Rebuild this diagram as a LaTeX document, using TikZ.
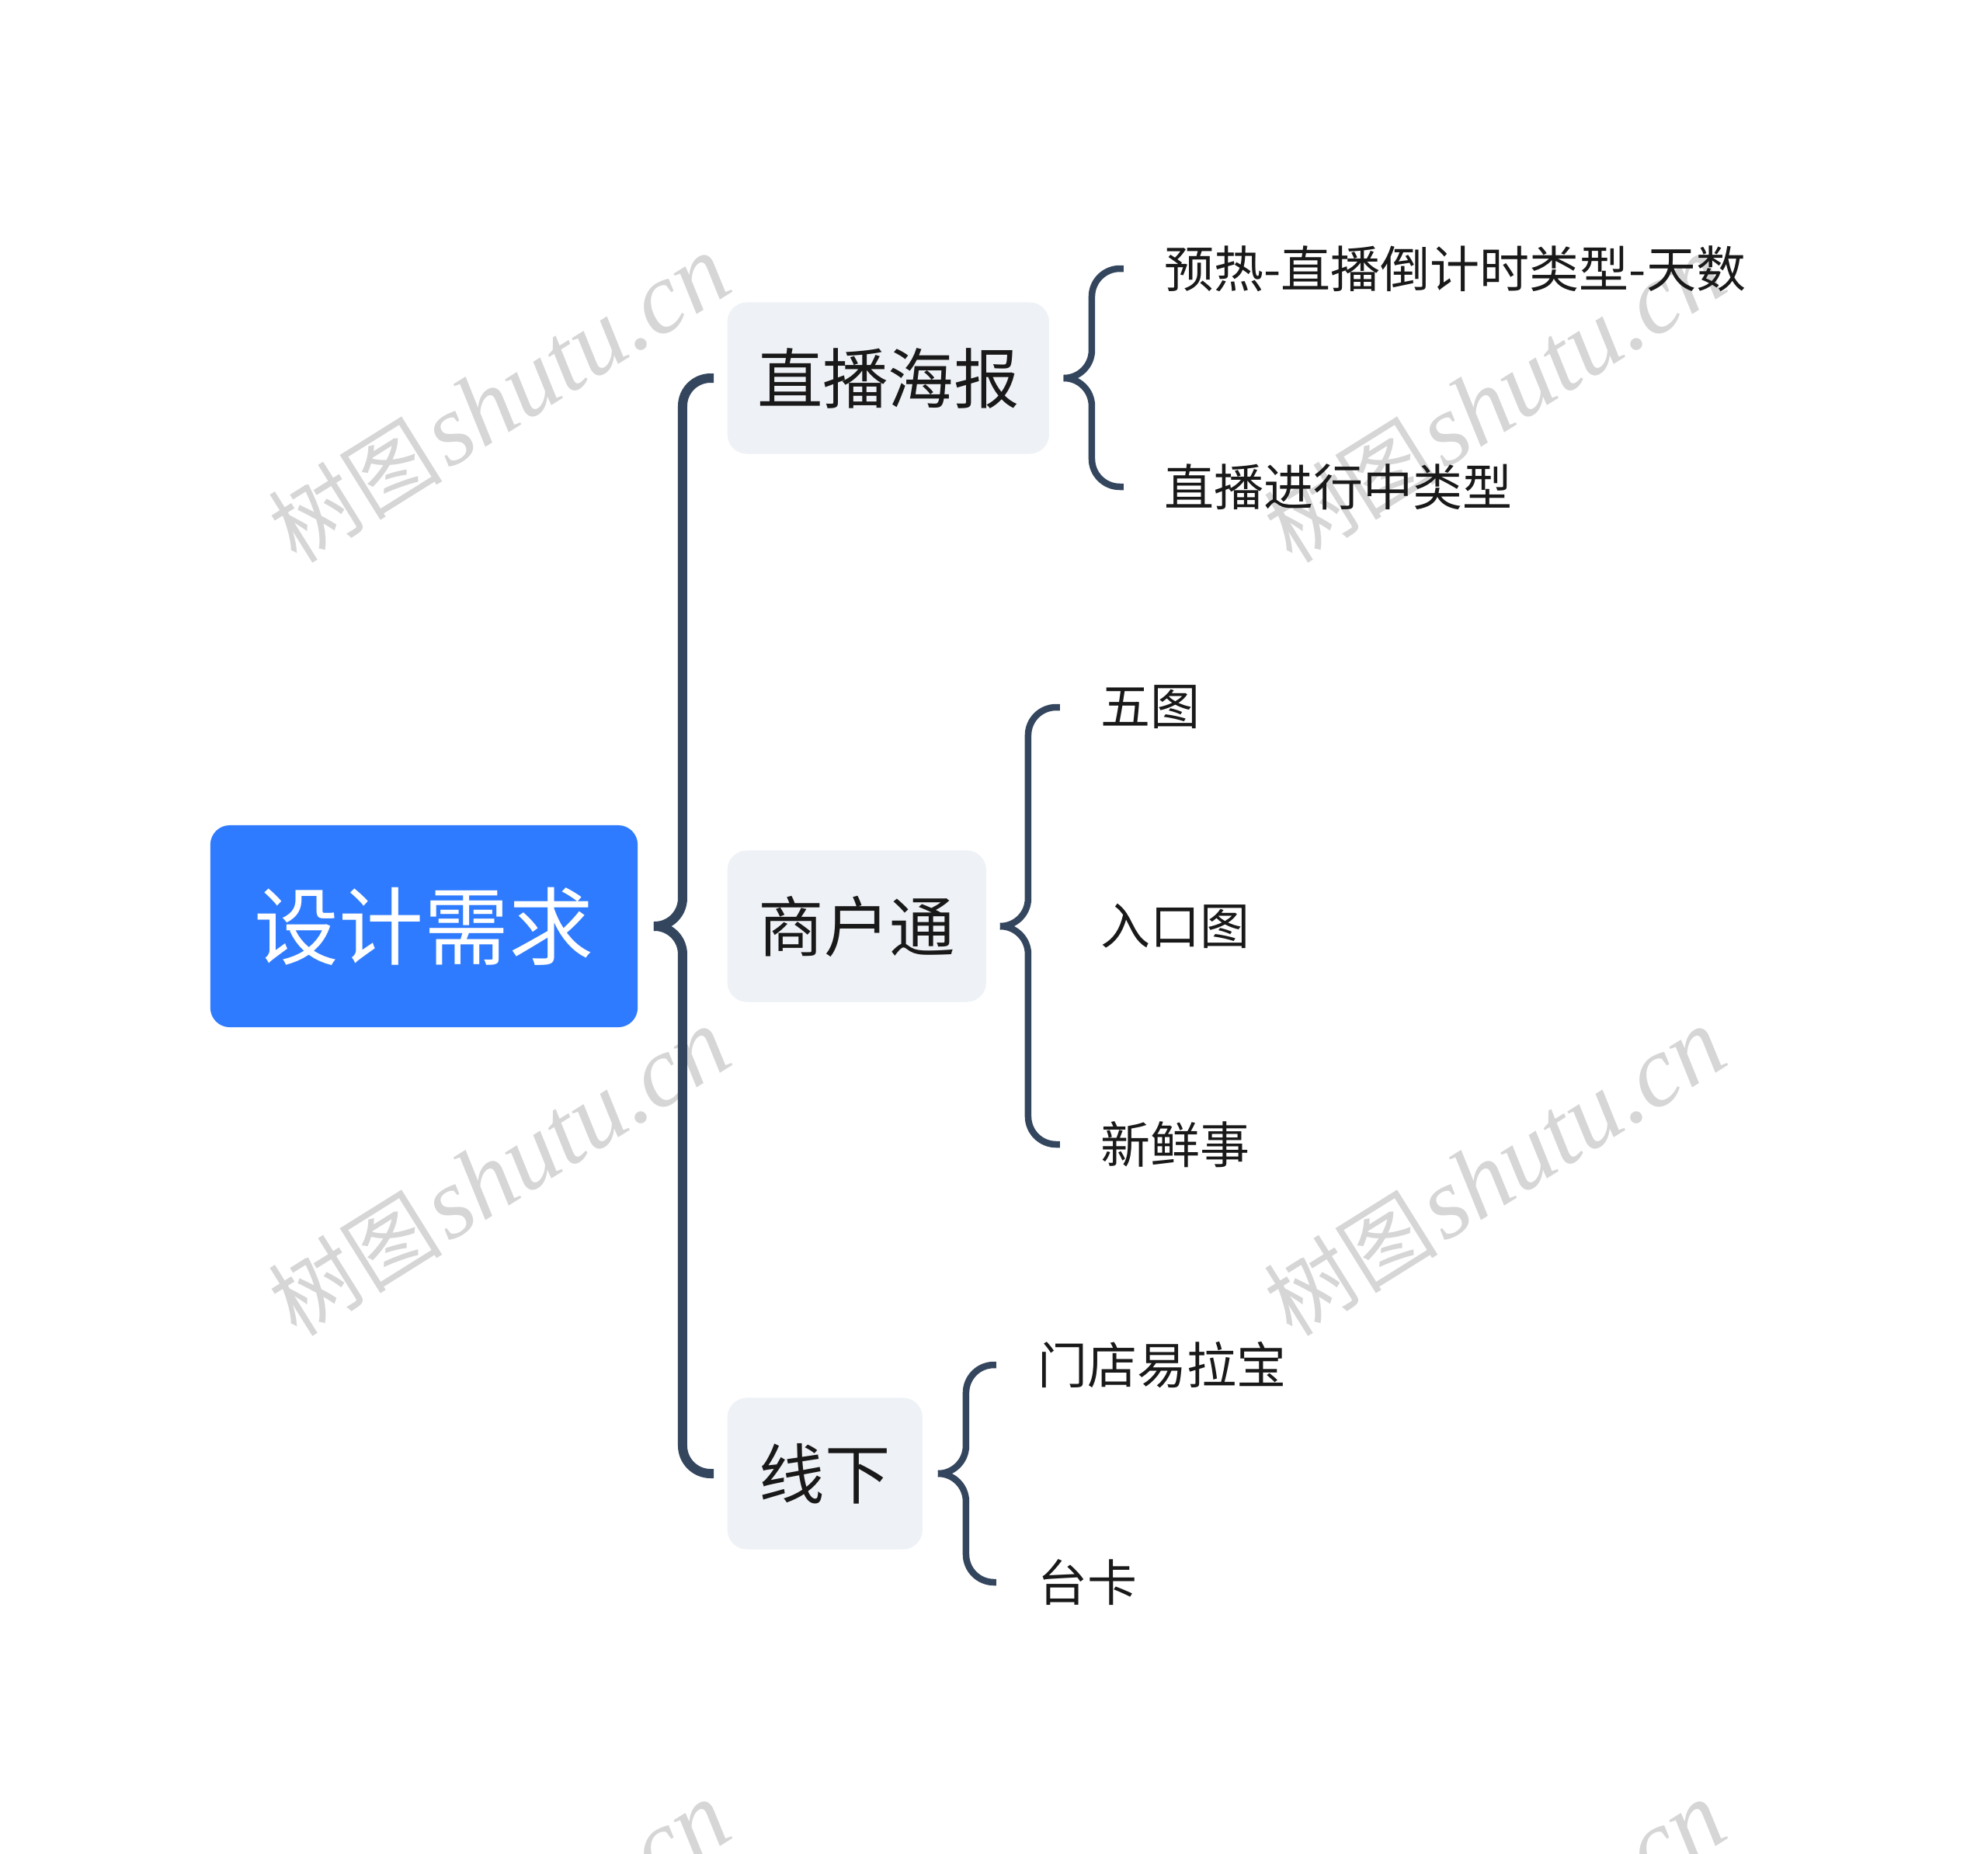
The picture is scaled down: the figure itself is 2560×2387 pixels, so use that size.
\documentclass[tikz,border=0pt]{standalone}
\usepackage{fontspec}
\newfontfamily\cjk{Noto Sans CJK SC}
\newfontfamily\wmserif{Liberation Serif}
\definecolor{rootblue}{RGB}{47,123,255}
\definecolor{boxgray}{RGB}{238,241,245}
\definecolor{linecol}{RGB}{52,70,94}
\definecolor{wmgray}{RGB}{214,214,214}
\definecolor{txtcol}{RGB}{25,25,25}
\tikzset{
  rootbox/.style={fill=rootblue, rounded corners=0.25cm, minimum width=5.5cm, minimum height=2.6cm,
    text=white, font=\cjk\fontsize{31}{31}\selectfont, inner sep=0pt},
  topicbox/.style={fill=boxgray, rounded corners=0.25cm, minimum height=1.95cm, anchor=west,
    text=txtcol, font=\cjk\fontsize{24}{24}\selectfont, inner sep=0pt},
  leaf/.style={anchor=west, inner sep=0pt, text=txtcol, font=\cjk\fontsize{18.2}{18.2}\selectfont},
  brace/.style={draw=linecol, line width=0.085cm, rounded corners=0.36cm},
  mainbrace/.style={brace, line width=0.12cm},
  wmark/.style={text=wmgray, rotate=32, inner sep=0pt}
}
\newcommand{\wmtext}{{\cjk\fontsize{32}{32}\selectfont 树图}\,{\wmserif\itshape\fontsize{37}{37}\selectfont shutu.cn}}
\begin{document}
\begin{tikzpicture}[x=0.01cm,y=-0.01cm]
\useasboundingbox[fill=white] (0,0) rectangle (2560,2387);
\begin{scope}
\clip (0,0) rectangle (2560,2387);
\node[wmark] (wm1) at (643,514) {\wmtext};
\node[wmark] (wm2) at (1925,514) {\wmtext};
\node[wmark] (wm3) at (643,1510) {\wmtext};
\node[wmark] (wm4) at (1925,1510) {\wmtext};
\node[wmark] (wm5) at (643,2506) {\wmtext};
\node[wmark] (wm6) at (1925,2506) {\wmtext};
\end{scope}

\node[rootbox] (root) at (546,1193) {设计需求};

\node[topicbox, minimum width=4.14cm] (t1) at (936,487) {直播海报};
\node[topicbox, minimum width=3.33cm] (t2) at (936,1193) {商户通};
\node[topicbox, minimum width=2.51cm] (t3) at (936,1898) {线下};

\node[leaf] (l11) at (1499,346) {预热-直播倒计时类型-天数};
\node[leaf] (l12) at (1499,627) {直播进行中类型};
\node[leaf] (l21) at (1417,911) {五图};
\node[leaf] (l22) at (1417,1193) {入口图};
\node[leaf] (l23) at (1417,1474) {新鲜事};
\node[leaf] (l31) at (1336,1758) {门店易拉宝};
\node[leaf] (l32) at (1336,2038) {台卡};

% root brace
\draw[mainbrace] ([xshift=0.2cm]root.east) -| ([xshift=-0.57cm]t1.west) -- ([xshift=-0.17cm]t1.west);
\draw[mainbrace] ([xshift=0.2cm]root.east) -| ([xshift=-0.57cm]t3.west) -- ([xshift=-0.17cm]t3.west);
% t1 brace
\draw[brace] ([xshift=0.18cm]t1.east) -| ([xshift=-0.93cm]l11.west) -- ([xshift=-0.52cm]l11.west);
\draw[brace] ([xshift=0.18cm]t1.east) -| ([xshift=-0.93cm]l12.west) -- ([xshift=-0.52cm]l12.west);
% t2 brace
\draw[brace] ([xshift=0.19cm]t2.east) -| ([xshift=-0.93cm]l21.west) -- ([xshift=-0.52cm]l21.west);
\draw[brace] ([xshift=0.19cm]t2.east) -| ([xshift=-0.93cm]l23.west) -- ([xshift=-0.52cm]l23.west);
% t3 brace
\draw[brace] ([xshift=0.2cm]t3.east) -| ([xshift=-0.92cm]l31.west) -- ([xshift=-0.53cm]l31.west);
\draw[brace] ([xshift=0.2cm]t3.east) -| ([xshift=-0.92cm]l32.west) -- ([xshift=-0.53cm]l32.west);
\end{tikzpicture}
\end{document}
